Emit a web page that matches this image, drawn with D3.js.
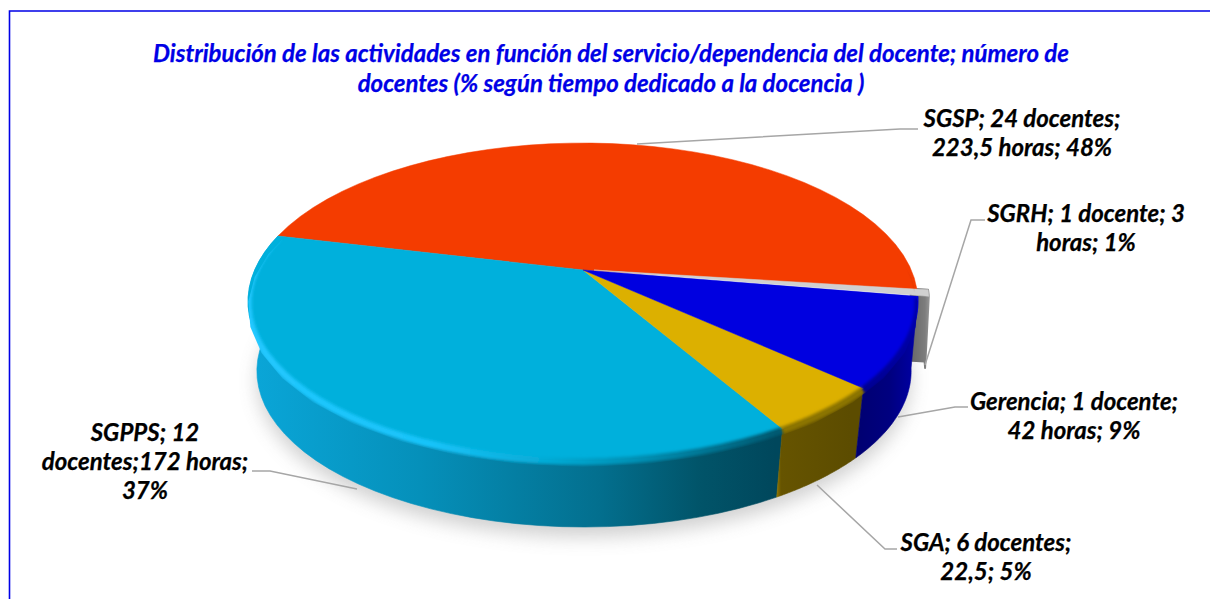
<!DOCTYPE html>
<html><head><meta charset="utf-8">
<script src="https://cdn.jsdelivr.net/npm/d3@7/dist/d3.min.js"></script>
<style>html,body{margin:0;padding:0;background:#fff;overflow:hidden}svg{display:block}
text{font-family:Lato,sans-serif;font-weight:700;font-style:italic;stroke-width:.25px}</style></head>
<body><svg id="c" width="1210" height="599"></svg>
<script>
const categories=["SGRH","Gerencia","SGA","SGPPS","SGSP"];
const hours=[3,42,22.5,172,223.5];
const topColors=["#d0d0d0","#0000e0","#dcb000","#00b0dc","#f43c00"];
const titleLines=["Distribución de las actividades en función del servicio/dependencia del docente; número de","docentes (% según tiempo dedicado a la docencia )"];
const labelLines=[["SGRH; 1 docente; 3","horas; 1%"],["Gerencia; 1 docente;","42 horas; 9%"],["SGA; 6 docentes;","22,5; 5%"],["SGPPS; 12","docentes;172 horas;","37%"],["SGSP; 24 docentes;","223,5 horas; 48%"]];

// layout
const labelAnchor=[[1086,222],[1074,410],[986,551],[145,441],[1022,127]];
const leaders=[[[925,365],[971,220],[985,220]],[[898,417],[955,407],[968,407]],[[817,485],[885,549],[897,549]],[[357,489],[270,471],[252,471]],[[637,144],[900,129],[918,129]]];
const apex={x:583,y:270},TOP={a:328.3,b:152.2,k:0.1987},BOT={a:329,b:150.6,k:0.186},DEPTH=72,BASEX=0.977;
const svg=d3.select("#c");
const defs=svg.append("defs");
const blur=(id,s)=>defs.append("filter").attr("id",id).attr("x","-20%").attr("y","-20%").attr("width","140%").attr("height","140%").append("feGaussianBlur").attr("stdDeviation",s);
blur("b1",1.8);blur("b2",9);
const grad=(id,stops)=>{const g=defs.append("linearGradient").attr("id",id).attr("gradientUnits","userSpaceOnUse").attr("x1",240).attr("x2",935).attr("y1",0).attr("y2",0);
  stops.forEach(([x,c])=>g.append("stop").attr("offset",(x-240)/695).attr("stop-color",c));};
grad("wall3",[[250,"#0aa6d8"],[420,"#0590ba"],[600,"#036f8e"],[700,"#015469"],[775,"#00475c"]]);
grad("wall2",[[775,"#a08400"],[781,"#665400"],[850,"#5c4c00"],[858,"#5c4c00"]]);
grad("wall1",[[855,"#000070"],[890,"#000080"],[918,"#0000a8"]]);
grad("wall0",[[905,"#5f5f5f"],[925,"#7d7d7d"],[930,"#999999"]]);
grad("rim3",[[250,"#22c8ff"],[430,"#18c4fa"],[560,"#03a8d2"],[640,"#0290b4"],[775,"#015a72"]]);
grad("rim2",[[775,"#8c7400"],[855,"#8c7400"]]);
grad("rim1",[[855,"#000090"],[918,"#0000a8"]]);
grad("rim4",[[700,"#f43c00"],[860,"#d03400"],[920,"#8c3010"]]);

const angle=d3.scaleLinear().domain([0,360]).range([0,2*Math.PI]);
const pie=d3.pie().value(d=>d).sort(null).startAngle(angle(97.3)).endAngle(angle(457.3));
const arcs=pie(hours);
// perspective projection of the disc; theta runs clockwise from the back of the disc
function proj(theta,r,dx,depth,s,P){
  const u=r*Math.sin(theta),v=r*Math.cos(theta),w=1+P.k*v;
  return [apex.x+dx+s*P.a*u/w, apex.y+depth-P.b*v/w];
}
const line=d3.line();
const rimPts=(a0,a1,dx,depth,s,P)=>d3.range(0,41).map(i=>proj(a0+(a1-a0)*i/40,1,dx,depth,s,P));
const offs=[11,0,0,0,0];
const baseOffs=[15,1,1,1,1];

// soft ground shadow
svg.append("path").attr("d",line(rimPts(angle(85),angle(285),1,DEPTH+10,BASEX,BOT))+"Z").attr("fill","#9a9a9a").attr("opacity",.45).attr("filter","url(#b2)");

// frame
svg.append("path").attr("d","M1210,11H9.5V599").attr("fill","none").attr("stroke","#0000e6").attr("stroke-width",1.6);

// walls
const wallOrder=[0,3,2,1];
wallOrder.forEach(i=>{
  const a=arcs[i],dx=offs[i],bx=baseOffs[i];
  let pts=rimPts(a.startAngle,a.endAngle,dx,0,1,TOP).concat(rimPts(a.endAngle,a.startAngle,bx,DEPTH,BASEX,BOT));
  if(i===0) pts=[proj(a.startAngle,.95,dx,0,1,TOP)].concat(pts,[proj(a.startAngle,.95,bx,DEPTH,BASEX,BOT)]);
  svg.append("path").attr("d",line(pts)+"Z").attr("fill",`url(#wall${i})`).attr("stroke",`url(#wall${i})`).attr("stroke-width",i===0?2:.6).attr("stroke-linejoin","round");
});

// top faces
[4,3,2,1,0].forEach(i=>{
  const a=arcs[i],dx=offs[i];
  const pts=[[apex.x+dx,apex.y]].concat(rimPts(a.startAngle,a.endAngle,dx,0,1,TOP));
  svg.append("path").attr("d",line(pts)+"Z").attr("fill",topColors[i]).attr("stroke",topColors[i]).attr("stroke-width",.5);
});
// bevel along the rim
const clipTop=defs.append("clipPath").attr("id","disc");
clipTop.append("path").attr("d",line(rimPts(0,2*Math.PI,0,7,1,TOP))+"Z");
[[3,7],[2,7],[1,7],[4,2.2]].forEach(([i,w])=>{
  const a=arcs[i];
  svg.append("g").attr("clip-path","url(#disc)").append("path")
   .attr("d",line(rimPts(a.startAngle,a.endAngle,0,w===7?1.5:0,1,TOP))).attr("fill","none")
   .attr("stroke",`url(#rim${i})`).attr("stroke-width",w).attr("filter","url(#b1)");
});

// leaders
leaders.forEach(p=>svg.append("path").attr("d",line(p)).attr("fill","none").attr("stroke","#a6a6a6").attr("stroke-width",1.5));

// texts
const title=svg.append("text").attr("text-anchor","middle").attr("fill","#0000e6").attr("stroke","#0000e6").attr("font-size",24);
titleLines.forEach((t,i)=>title.append("tspan").attr("x",611).attr("y",62+i*30).text(t));
categories.forEach((c,i)=>{
  const t=svg.append("text").attr("text-anchor","middle").attr("fill","#000").attr("stroke","#000").attr("font-size",24);
  labelLines[i].forEach((l,j)=>t.append("tspan").attr("x",labelAnchor[i][0]).attr("y",labelAnchor[i][1]+j*29).text(l));
});
</script></body></html>
